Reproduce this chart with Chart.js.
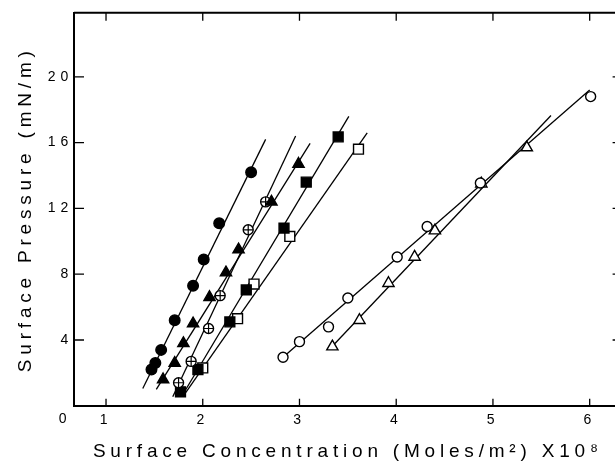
<!DOCTYPE html>
<html>
<head>
<meta charset="utf-8">
<script src="https://cdn.jsdelivr.net/npm/chart.js@4/dist/chart.umd.min.js"></script>
<style>
  html, body { margin: 0; background: #fff; overflow: hidden; }
  canvas { display: block; }
</style>
</head>
<body>
<canvas id="myChart" width="630" height="463"></canvas>
<script>
// tick labels
const xTicks = [1, 2, 3, 4, 5, 6];
const yTicks = [4, 8, 12, 16, 20];

const filledCircleX = [1.47, 1.51, 1.57, 1.71, 1.90, 2.01, 2.17, 2.50];
const filledCircleY = [2.2, 2.6, 3.4, 5.2, 7.3, 8.9, 11.1, 14.2];
const filledTriX = [1.59, 1.71, 1.80, 1.90, 2.07, 2.24, 2.37, 2.71, 2.99];
const filledTriY = [1.6, 2.6, 3.8, 5.0, 6.6, 8.1, 9.5, 12.4, 14.7];
const crossCircleX = [1.75, 1.88, 2.06, 2.18, 2.47, 2.65];
const crossCircleY = [1.4, 2.7, 4.7, 6.7, 10.7, 12.4];
const filledSqX = [1.77, 1.95, 2.28, 2.45, 2.84, 3.07, 3.40];
const filledSqY = [0.85, 2.2, 5.1, 7.05, 10.8, 13.6, 16.35];
const openSqX = [2.00, 2.36, 2.53, 2.90, 3.61];
const openSqY = [2.3, 5.3, 7.4, 10.3, 15.6];
const openCircleX = [2.83, 3.00, 3.30, 3.50, 4.01, 4.32, 4.87, 6.01];
const openCircleY = [2.95, 3.9, 4.8, 6.55, 9.05, 10.9, 13.55, 18.8];
const openTriX = [3.34, 3.62, 3.92, 4.19, 4.40, 4.88, 5.35];
const openTriY = [3.6, 5.2, 7.45, 9.05, 10.65, 13.5, 15.7];

// end points of the drawn straight lines
const lineFilledCircleX = [1.38, 2.65], lineFilledCircleY = [1.05, 16.2];
const lineFilledTriX = [1.52, 3.11], lineFilledTriY = [1.0, 15.95];
const lineCrossCircleX = [1.69, 2.96], lineCrossCircleY = [0.55, 16.4];
const lineFilledSqX = [1.78, 3.51], lineFilledSqY = [0.55, 17.6];
const lineOpenSqX = [1.80, 3.70], lineOpenSqY = [0.6, 16.6];
const lineOpenCircleX = [2.83, 6.0], lineOpenCircleY = [2.95, 19.2];
const lineOpenTriX = [3.32, 5.60], lineOpenTriY = [3.5, 17.65];

function pts(xs, ys) {
  return xs.map((v, i) => ({ x: v, y: ys[i] }));
}

function fitLine(xs, ys) {
  return {
    data: pts(xs, ys),
    showLine: true,
    borderColor: "#000",
    borderWidth: 1.3,
    pointRadius: 0,
    order: 10,
  };
}

function marks(xs, ys, style, r, fill) {
  return {
    data: pts(xs, ys),
    showLine: false,
    pointStyle: style,
    pointRadius: r,
    pointBackgroundColor: fill,
    pointBorderColor: "#000",
    pointBorderWidth: 1.4,
    order: 1,
  };
}

const spacing = "4.8px";

// inward ticks, top/right frame and the corner "0"
const framePlugin = {
  id: "frame",
  beforeLayout(chart) {
    chart.ctx.letterSpacing = spacing;
  },
  beforeDraw(chart) {
    chart.ctx.letterSpacing = spacing;
  },
  afterDraw(chart) {
    const ctx = chart.ctx;
    const a = chart.chartArea;
    const x = chart.scales.x;
    const y = chart.scales.y;
    ctx.save();
    ctx.strokeStyle = "#000";
    ctx.lineWidth = 2;
    ctx.beginPath();
    ctx.moveTo(a.left, a.top);
    ctx.lineTo(a.right, a.top);
    ctx.lineTo(a.right, a.bottom);
    ctx.stroke();
    ctx.lineWidth = 1.3;
    ctx.beginPath();
    xTicks.forEach((v) => {
      const p = x.getPixelForValue(v);
      ctx.moveTo(p, a.bottom);
      ctx.lineTo(p, a.bottom - 7);
      ctx.moveTo(p, a.top);
      ctx.lineTo(p, a.top + 8);
    });
    yTicks.forEach((v) => {
      const p = y.getPixelForValue(v);
      ctx.moveTo(a.left, p);
      ctx.lineTo(a.left + 10, p);
      ctx.moveTo(a.right, p);
      ctx.lineTo(a.right - 9, p);
    });
    ctx.stroke();
    ctx.fillStyle = "#000";
    ctx.font = "14px 'Liberation Sans', Arial, sans-serif";
    ctx.textAlign = "center";
    ctx.textBaseline = "middle";
    ctx.fillText("0", a.left - 9, y.getPixelForValue(0) + 13);
    ctx.restore();
  },
};

Chart.defaults.font.family = "'Liberation Sans', Arial, sans-serif";
Chart.defaults.color = "#000";

let ctx = document.getElementById("myChart").getContext("2d");
let myChart = new Chart(ctx, {
  type: "scatter",
  data: {
    datasets: [
      fitLine(lineFilledCircleX, lineFilledCircleY),
      fitLine(lineFilledTriX, lineFilledTriY),
      fitLine(lineCrossCircleX, lineCrossCircleY),
      fitLine(lineFilledSqX, lineFilledSqY),
      fitLine(lineOpenSqX, lineOpenSqY),
      fitLine(lineOpenCircleX, lineOpenCircleY),
      fitLine(lineOpenTriX, lineOpenTriY),
      marks(filledCircleX, filledCircleY, "circle", 5.3, "#000"),
      marks(filledTriX, filledTriY, "triangle", 6.5, "#000"),
      marks(crossCircleX, crossCircleY, "circle", 5, "#fff"),
      { ...marks(crossCircleX, crossCircleY, "cross", 5, "#fff"), order: 0, pointBorderWidth: 1.2 },
      marks(filledSqX, filledSqY, "rect", 7, "#000"),
      marks(openSqX, openSqY, "rect", 7, "#fff"),
      marks(openCircleX, openCircleY, "circle", 5, "#fff"),
      marks(openTriX, openTriY, "triangle", 6.5, "#fff"),
    ],
  },
  options: {
    responsive: false,
    animation: false,
    layout: { padding: { left: 0, top: 12.7, right: 0, bottom: 0 } },
    plugins: { legend: { display: false }, tooltip: { enabled: false } },
    scales: {
      x: {
        type: "linear",
        min: 0.669,
        max: 6.33,
        afterBuildTicks: (s) => { s.ticks = xTicks.map((v) => ({ value: v })); },
        afterFit: (s) => { s.height = 57.2; },
        grid: { display: false, drawTicks: false },
        border: { display: true, color: "#000", width: 2 },
        ticks: { font: { size: 14 }, padding: 6, maxRotation: 0 },
        title: {
          display: true,
          text: "Surface Concentration (Moles/m²) X10⁸",
          font: { size: 19 },
          padding: { top: 0, bottom: 0 },
        },
      },
      y: {
        type: "linear",
        min: 0,
        max: 23.9,
        afterBuildTicks: (s) => { s.ticks = yTicks.map((v) => ({ value: v })); },
        afterFit: (s) => { s.width = 74; },
        grid: { display: false, drawTicks: false },
        border: { display: true, color: "#000", width: 2 },
        ticks: { font: { size: 14 }, padding: 1 },
        title: {
          display: true,
          text: "Surface Pressure (mN/m)",
          font: { size: 19 },
          padding: { top: 14, bottom: 0 },
        },
      },
    },
  },
  plugins: [framePlugin],
});
</script>
</body>
</html>
